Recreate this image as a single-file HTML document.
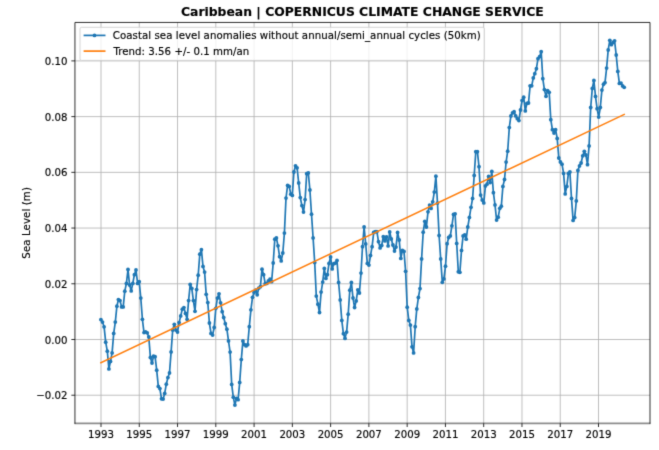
<!DOCTYPE html>
<html><head><meta charset="utf-8"><title>Caribbean | COPERNICUS CLIMATE CHANGE SERVICE</title>
<style>html,body{margin:0;padding:0;background:#fff}body{width:659px;height:450px;overflow:hidden}svg{display:block}text{font-family:"DejaVu Sans","Liberation Sans",sans-serif;fill:#000;stroke:#000;stroke-width:0.15px}</style></head><body>
<svg width="659" height="450" viewBox="0 0 659 450">
<defs><filter id="b" color-interpolation-filters="sRGB" x="0" y="0" width="659" height="450" filterUnits="userSpaceOnUse"><feConvolveMatrix order="3" kernelMatrix="0.0144 0.0912 0.0144 0.0912 0.5776 0.0912 0.0144 0.0912 0.0144" edgeMode="duplicate"/></filter></defs>
<rect width="659" height="450" fill="#fff"/><g filter="url(#b)">
<path d="M101.00 22.45V423.4M139.27 22.45V423.4M177.54 22.45V423.4M215.81 22.45V423.4M254.08 22.45V423.4M292.35 22.45V423.4M330.62 22.45V423.4M368.89 22.45V423.4M407.16 22.45V423.4M445.43 22.45V423.4M483.70 22.45V423.4M521.97 22.45V423.4M560.24 22.45V423.4M598.51 22.45V423.4M74.95 395.22H650.0M74.95 339.50H650.0M74.95 283.78H650.0M74.95 228.06H650.0M74.95 172.34H650.0M74.95 116.62H650.0M74.95 60.90H650.0" stroke="#b0b0b0" stroke-width="0.82" fill="none"/>
<path d="M100.9 319.6L102.5 322.1L104.1 326.8L105.7 342.2L107.3 351.2L108.9 368.9L110.5 361.4L112.1 352.9L113.7 333.4L115.3 322.1L116.9 306.2L118.4 299.6L120.0 300.6L121.6 306.9L123.2 306.9L124.8 291.2L126.4 283.4L128.0 269.5L129.6 285.0L131.2 290.9L132.8 283.4L134.4 274.7L136.0 270.0L137.6 283.4L139.2 281.7L140.8 298.1L142.4 319.3L144.0 332.6L145.6 331.8L147.2 332.8L148.8 337.0L150.4 357.5L152.0 363.0L153.5 356.2L155.1 356.7L156.7 370.2L158.3 386.4L159.9 388.6L161.5 398.8L163.1 399.1L164.7 393.4L166.3 384.2L167.9 377.6L169.5 372.9L171.1 351.9L172.7 330.1L174.3 324.3L175.9 330.1L177.5 332.1L179.1 322.6L180.7 315.9L182.3 309.2L183.9 307.6L185.5 313.4L187.1 319.3L188.6 300.6L190.2 284.5L191.8 288.4L193.4 300.6L195.0 311.3L196.6 289.6L198.2 275.2L199.8 254.2L201.4 249.7L203.0 266.4L204.6 272.1L206.2 294.3L207.8 302.6L209.4 323.0L211.0 333.4L212.6 335.1L214.2 327.5L215.8 308.3L217.4 298.1L219.0 293.8L220.6 302.8L222.2 311.7L223.7 317.5L225.3 323.7L226.9 329.2L228.5 340.9L230.1 352.1L231.7 384.4L233.3 397.2L234.9 405.1L236.5 398.4L238.1 399.7L239.7 382.4L241.3 359.6L242.9 340.9L244.5 344.7L246.1 345.9L247.7 344.7L249.3 326.7L250.9 309.8L252.5 297.3L254.1 292.6L255.7 290.1L257.2 294.8L258.8 288.1L260.4 286.7L262.0 269.2L263.6 274.7L265.2 283.7L266.8 283.4L268.4 280.9L270.0 279.2L271.6 281.7L273.2 263.0L274.8 239.2L276.4 238.0L278.0 245.8L279.6 256.7L281.2 260.9L282.8 253.0L284.4 233.1L286.0 198.1L287.6 185.4L289.2 186.4L290.8 194.2L292.3 195.4L293.9 172.0L295.5 165.8L297.1 167.8L298.7 183.0L300.3 197.6L301.9 205.6L303.5 212.1L305.1 199.6L306.7 173.7L308.3 172.9L309.9 190.0L311.5 214.2L313.1 237.9L314.7 262.6L316.3 296.1L317.9 304.2L319.5 312.5L321.1 292.1L322.7 282.1L324.3 268.4L325.9 278.4L327.4 274.7L329.0 263.4L330.6 257.0L332.2 268.9L333.8 263.7L335.4 263.1L337.0 260.4L338.6 282.5L340.2 299.9L341.8 320.4L343.4 333.7L345.0 338.4L346.6 332.1L348.2 314.2L349.8 290.2L351.4 282.4L353.0 298.0L354.6 307.5L356.2 300.9L357.8 289.8L359.4 293.0L361.0 273.1L362.5 246.7L364.1 227.0L365.7 243.9L367.3 263.4L368.9 265.1L370.5 255.5L372.1 246.7L373.7 232.5L375.3 231.7L376.9 231.7L378.5 241.7L380.1 247.9L381.7 245.5L383.3 236.7L384.9 240.9L386.5 236.9L388.1 245.9L389.7 231.9L391.3 239.0L392.9 245.0L394.5 251.1L396.0 247.1L397.6 232.4L399.2 240.0L400.8 258.4L402.4 250.4L404.0 251.4L405.6 271.3L407.2 307.2L408.8 320.4L410.4 325.1L412.0 346.8L413.6 352.9L415.2 326.7L416.8 308.9L418.4 297.5L420.0 288.6L421.6 258.9L423.2 232.2L424.8 221.3L426.4 227.0L428.0 211.8L429.6 205.1L431.1 208.4L432.7 201.8L434.3 192.1L435.9 176.2L437.5 203.1L439.1 235.5L440.7 258.9L442.3 282.3L443.9 278.9L445.5 266.2L447.1 243.7L448.7 237.5L450.3 235.9L451.9 225.8L453.5 214.5L455.1 213.8L456.7 243.4L458.3 271.8L459.9 272.3L461.5 250.4L463.1 235.9L464.7 235.0L466.2 239.2L467.8 227.0L469.4 217.4L471.0 207.3L472.6 198.4L474.2 175.4L475.8 151.7L477.4 151.7L479.0 166.7L480.6 195.1L482.2 200.1L483.8 202.9L485.4 185.9L487.0 184.2L488.6 176.4L490.2 182.6L491.8 171.4L493.4 192.7L495.0 204.9L496.6 220.1L498.2 217.2L499.8 208.3L501.3 206.2L502.9 186.4L504.5 179.5L506.1 162.1L507.7 151.2L509.3 127.6L510.9 115.9L512.5 112.9L514.1 111.7L515.7 115.9L517.3 118.7L518.9 120.6L520.5 110.0L522.1 100.4L523.7 97.2L525.3 110.9L526.9 103.4L528.5 103.0L530.1 85.8L531.7 85.8L533.3 77.9L534.8 73.7L536.4 68.7L538.0 58.7L539.6 56.7L541.2 51.7L542.8 78.7L544.4 89.6L546.0 96.3L547.6 90.6L549.2 92.3L550.8 119.7L552.4 129.7L554.0 133.1L555.6 129.7L557.2 138.4L558.8 158.0L560.4 162.0L562.0 164.2L563.6 173.4L565.2 193.9L566.8 186.4L568.4 173.4L569.9 172.0L571.5 198.4L573.1 220.4L574.7 217.6L576.3 200.9L577.9 170.5L579.5 165.9L581.1 163.0L582.7 155.8L584.3 151.3L585.9 155.0L587.5 164.7L589.1 145.9L590.7 107.5L592.3 88.4L593.9 80.5L595.5 96.4L597.1 108.7L598.7 117.1L600.3 107.5L601.9 90.1L603.5 84.2L605.0 82.6L606.6 68.1L608.2 50.0L609.8 40.3L611.4 44.7L613.0 42.5L614.6 40.8L616.2 55.0L617.8 71.4L619.4 83.4L621.0 83.1L622.6 85.9L624.2 87.3" stroke="#1f77b4" stroke-width="1.7" fill="none" stroke-linejoin="round"/>
<g fill="#1f77b4"><circle cx="100.9" cy="319.6" r="1.9"/><circle cx="102.5" cy="322.1" r="1.9"/><circle cx="104.1" cy="326.8" r="1.9"/><circle cx="105.7" cy="342.2" r="1.9"/><circle cx="107.3" cy="351.2" r="1.9"/><circle cx="108.9" cy="368.9" r="1.9"/><circle cx="110.5" cy="361.4" r="1.9"/><circle cx="112.1" cy="352.9" r="1.9"/><circle cx="113.7" cy="333.4" r="1.9"/><circle cx="115.3" cy="322.1" r="1.9"/><circle cx="116.9" cy="306.2" r="1.9"/><circle cx="118.4" cy="299.6" r="1.9"/><circle cx="120.0" cy="300.6" r="1.9"/><circle cx="121.6" cy="306.9" r="1.9"/><circle cx="123.2" cy="306.9" r="1.9"/><circle cx="124.8" cy="291.2" r="1.9"/><circle cx="126.4" cy="283.4" r="1.9"/><circle cx="128.0" cy="269.5" r="1.9"/><circle cx="129.6" cy="285.0" r="1.9"/><circle cx="131.2" cy="290.9" r="1.9"/><circle cx="132.8" cy="283.4" r="1.9"/><circle cx="134.4" cy="274.7" r="1.9"/><circle cx="136.0" cy="270.0" r="1.9"/><circle cx="137.6" cy="283.4" r="1.9"/><circle cx="139.2" cy="281.7" r="1.9"/><circle cx="140.8" cy="298.1" r="1.9"/><circle cx="142.4" cy="319.3" r="1.9"/><circle cx="144.0" cy="332.6" r="1.9"/><circle cx="145.6" cy="331.8" r="1.9"/><circle cx="147.2" cy="332.8" r="1.9"/><circle cx="148.8" cy="337.0" r="1.9"/><circle cx="150.4" cy="357.5" r="1.9"/><circle cx="152.0" cy="363.0" r="1.9"/><circle cx="153.5" cy="356.2" r="1.9"/><circle cx="155.1" cy="356.7" r="1.9"/><circle cx="156.7" cy="370.2" r="1.9"/><circle cx="158.3" cy="386.4" r="1.9"/><circle cx="159.9" cy="388.6" r="1.9"/><circle cx="161.5" cy="398.8" r="1.9"/><circle cx="163.1" cy="399.1" r="1.9"/><circle cx="164.7" cy="393.4" r="1.9"/><circle cx="166.3" cy="384.2" r="1.9"/><circle cx="167.9" cy="377.6" r="1.9"/><circle cx="169.5" cy="372.9" r="1.9"/><circle cx="171.1" cy="351.9" r="1.9"/><circle cx="172.7" cy="330.1" r="1.9"/><circle cx="174.3" cy="324.3" r="1.9"/><circle cx="175.9" cy="330.1" r="1.9"/><circle cx="177.5" cy="332.1" r="1.9"/><circle cx="179.1" cy="322.6" r="1.9"/><circle cx="180.7" cy="315.9" r="1.9"/><circle cx="182.3" cy="309.2" r="1.9"/><circle cx="183.9" cy="307.6" r="1.9"/><circle cx="185.5" cy="313.4" r="1.9"/><circle cx="187.1" cy="319.3" r="1.9"/><circle cx="188.6" cy="300.6" r="1.9"/><circle cx="190.2" cy="284.5" r="1.9"/><circle cx="191.8" cy="288.4" r="1.9"/><circle cx="193.4" cy="300.6" r="1.9"/><circle cx="195.0" cy="311.3" r="1.9"/><circle cx="196.6" cy="289.6" r="1.9"/><circle cx="198.2" cy="275.2" r="1.9"/><circle cx="199.8" cy="254.2" r="1.9"/><circle cx="201.4" cy="249.7" r="1.9"/><circle cx="203.0" cy="266.4" r="1.9"/><circle cx="204.6" cy="272.1" r="1.9"/><circle cx="206.2" cy="294.3" r="1.9"/><circle cx="207.8" cy="302.6" r="1.9"/><circle cx="209.4" cy="323.0" r="1.9"/><circle cx="211.0" cy="333.4" r="1.9"/><circle cx="212.6" cy="335.1" r="1.9"/><circle cx="214.2" cy="327.5" r="1.9"/><circle cx="215.8" cy="308.3" r="1.9"/><circle cx="217.4" cy="298.1" r="1.9"/><circle cx="219.0" cy="293.8" r="1.9"/><circle cx="220.6" cy="302.8" r="1.9"/><circle cx="222.2" cy="311.7" r="1.9"/><circle cx="223.7" cy="317.5" r="1.9"/><circle cx="225.3" cy="323.7" r="1.9"/><circle cx="226.9" cy="329.2" r="1.9"/><circle cx="228.5" cy="340.9" r="1.9"/><circle cx="230.1" cy="352.1" r="1.9"/><circle cx="231.7" cy="384.4" r="1.9"/><circle cx="233.3" cy="397.2" r="1.9"/><circle cx="234.9" cy="405.1" r="1.9"/><circle cx="236.5" cy="398.4" r="1.9"/><circle cx="238.1" cy="399.7" r="1.9"/><circle cx="239.7" cy="382.4" r="1.9"/><circle cx="241.3" cy="359.6" r="1.9"/><circle cx="242.9" cy="340.9" r="1.9"/><circle cx="244.5" cy="344.7" r="1.9"/><circle cx="246.1" cy="345.9" r="1.9"/><circle cx="247.7" cy="344.7" r="1.9"/><circle cx="249.3" cy="326.7" r="1.9"/><circle cx="250.9" cy="309.8" r="1.9"/><circle cx="252.5" cy="297.3" r="1.9"/><circle cx="254.1" cy="292.6" r="1.9"/><circle cx="255.7" cy="290.1" r="1.9"/><circle cx="257.2" cy="294.8" r="1.9"/><circle cx="258.8" cy="288.1" r="1.9"/><circle cx="260.4" cy="286.7" r="1.9"/><circle cx="262.0" cy="269.2" r="1.9"/><circle cx="263.6" cy="274.7" r="1.9"/><circle cx="265.2" cy="283.7" r="1.9"/><circle cx="266.8" cy="283.4" r="1.9"/><circle cx="268.4" cy="280.9" r="1.9"/><circle cx="270.0" cy="279.2" r="1.9"/><circle cx="271.6" cy="281.7" r="1.9"/><circle cx="273.2" cy="263.0" r="1.9"/><circle cx="274.8" cy="239.2" r="1.9"/><circle cx="276.4" cy="238.0" r="1.9"/><circle cx="278.0" cy="245.8" r="1.9"/><circle cx="279.6" cy="256.7" r="1.9"/><circle cx="281.2" cy="260.9" r="1.9"/><circle cx="282.8" cy="253.0" r="1.9"/><circle cx="284.4" cy="233.1" r="1.9"/><circle cx="286.0" cy="198.1" r="1.9"/><circle cx="287.6" cy="185.4" r="1.9"/><circle cx="289.2" cy="186.4" r="1.9"/><circle cx="290.8" cy="194.2" r="1.9"/><circle cx="292.3" cy="195.4" r="1.9"/><circle cx="293.9" cy="172.0" r="1.9"/><circle cx="295.5" cy="165.8" r="1.9"/><circle cx="297.1" cy="167.8" r="1.9"/><circle cx="298.7" cy="183.0" r="1.9"/><circle cx="300.3" cy="197.6" r="1.9"/><circle cx="301.9" cy="205.6" r="1.9"/><circle cx="303.5" cy="212.1" r="1.9"/><circle cx="305.1" cy="199.6" r="1.9"/><circle cx="306.7" cy="173.7" r="1.9"/><circle cx="308.3" cy="172.9" r="1.9"/><circle cx="309.9" cy="190.0" r="1.9"/><circle cx="311.5" cy="214.2" r="1.9"/><circle cx="313.1" cy="237.9" r="1.9"/><circle cx="314.7" cy="262.6" r="1.9"/><circle cx="316.3" cy="296.1" r="1.9"/><circle cx="317.9" cy="304.2" r="1.9"/><circle cx="319.5" cy="312.5" r="1.9"/><circle cx="321.1" cy="292.1" r="1.9"/><circle cx="322.7" cy="282.1" r="1.9"/><circle cx="324.3" cy="268.4" r="1.9"/><circle cx="325.9" cy="278.4" r="1.9"/><circle cx="327.4" cy="274.7" r="1.9"/><circle cx="329.0" cy="263.4" r="1.9"/><circle cx="330.6" cy="257.0" r="1.9"/><circle cx="332.2" cy="268.9" r="1.9"/><circle cx="333.8" cy="263.7" r="1.9"/><circle cx="335.4" cy="263.1" r="1.9"/><circle cx="337.0" cy="260.4" r="1.9"/><circle cx="338.6" cy="282.5" r="1.9"/><circle cx="340.2" cy="299.9" r="1.9"/><circle cx="341.8" cy="320.4" r="1.9"/><circle cx="343.4" cy="333.7" r="1.9"/><circle cx="345.0" cy="338.4" r="1.9"/><circle cx="346.6" cy="332.1" r="1.9"/><circle cx="348.2" cy="314.2" r="1.9"/><circle cx="349.8" cy="290.2" r="1.9"/><circle cx="351.4" cy="282.4" r="1.9"/><circle cx="353.0" cy="298.0" r="1.9"/><circle cx="354.6" cy="307.5" r="1.9"/><circle cx="356.2" cy="300.9" r="1.9"/><circle cx="357.8" cy="289.8" r="1.9"/><circle cx="359.4" cy="293.0" r="1.9"/><circle cx="361.0" cy="273.1" r="1.9"/><circle cx="362.5" cy="246.7" r="1.9"/><circle cx="364.1" cy="227.0" r="1.9"/><circle cx="365.7" cy="243.9" r="1.9"/><circle cx="367.3" cy="263.4" r="1.9"/><circle cx="368.9" cy="265.1" r="1.9"/><circle cx="370.5" cy="255.5" r="1.9"/><circle cx="372.1" cy="246.7" r="1.9"/><circle cx="373.7" cy="232.5" r="1.9"/><circle cx="375.3" cy="231.7" r="1.9"/><circle cx="376.9" cy="231.7" r="1.9"/><circle cx="378.5" cy="241.7" r="1.9"/><circle cx="380.1" cy="247.9" r="1.9"/><circle cx="381.7" cy="245.5" r="1.9"/><circle cx="383.3" cy="236.7" r="1.9"/><circle cx="384.9" cy="240.9" r="1.9"/><circle cx="386.5" cy="236.9" r="1.9"/><circle cx="388.1" cy="245.9" r="1.9"/><circle cx="389.7" cy="231.9" r="1.9"/><circle cx="391.3" cy="239.0" r="1.9"/><circle cx="392.9" cy="245.0" r="1.9"/><circle cx="394.5" cy="251.1" r="1.9"/><circle cx="396.0" cy="247.1" r="1.9"/><circle cx="397.6" cy="232.4" r="1.9"/><circle cx="399.2" cy="240.0" r="1.9"/><circle cx="400.8" cy="258.4" r="1.9"/><circle cx="402.4" cy="250.4" r="1.9"/><circle cx="404.0" cy="251.4" r="1.9"/><circle cx="405.6" cy="271.3" r="1.9"/><circle cx="407.2" cy="307.2" r="1.9"/><circle cx="408.8" cy="320.4" r="1.9"/><circle cx="410.4" cy="325.1" r="1.9"/><circle cx="412.0" cy="346.8" r="1.9"/><circle cx="413.6" cy="352.9" r="1.9"/><circle cx="415.2" cy="326.7" r="1.9"/><circle cx="416.8" cy="308.9" r="1.9"/><circle cx="418.4" cy="297.5" r="1.9"/><circle cx="420.0" cy="288.6" r="1.9"/><circle cx="421.6" cy="258.9" r="1.9"/><circle cx="423.2" cy="232.2" r="1.9"/><circle cx="424.8" cy="221.3" r="1.9"/><circle cx="426.4" cy="227.0" r="1.9"/><circle cx="428.0" cy="211.8" r="1.9"/><circle cx="429.6" cy="205.1" r="1.9"/><circle cx="431.1" cy="208.4" r="1.9"/><circle cx="432.7" cy="201.8" r="1.9"/><circle cx="434.3" cy="192.1" r="1.9"/><circle cx="435.9" cy="176.2" r="1.9"/><circle cx="437.5" cy="203.1" r="1.9"/><circle cx="439.1" cy="235.5" r="1.9"/><circle cx="440.7" cy="258.9" r="1.9"/><circle cx="442.3" cy="282.3" r="1.9"/><circle cx="443.9" cy="278.9" r="1.9"/><circle cx="445.5" cy="266.2" r="1.9"/><circle cx="447.1" cy="243.7" r="1.9"/><circle cx="448.7" cy="237.5" r="1.9"/><circle cx="450.3" cy="235.9" r="1.9"/><circle cx="451.9" cy="225.8" r="1.9"/><circle cx="453.5" cy="214.5" r="1.9"/><circle cx="455.1" cy="213.8" r="1.9"/><circle cx="456.7" cy="243.4" r="1.9"/><circle cx="458.3" cy="271.8" r="1.9"/><circle cx="459.9" cy="272.3" r="1.9"/><circle cx="461.5" cy="250.4" r="1.9"/><circle cx="463.1" cy="235.9" r="1.9"/><circle cx="464.7" cy="235.0" r="1.9"/><circle cx="466.2" cy="239.2" r="1.9"/><circle cx="467.8" cy="227.0" r="1.9"/><circle cx="469.4" cy="217.4" r="1.9"/><circle cx="471.0" cy="207.3" r="1.9"/><circle cx="472.6" cy="198.4" r="1.9"/><circle cx="474.2" cy="175.4" r="1.9"/><circle cx="475.8" cy="151.7" r="1.9"/><circle cx="477.4" cy="151.7" r="1.9"/><circle cx="479.0" cy="166.7" r="1.9"/><circle cx="480.6" cy="195.1" r="1.9"/><circle cx="482.2" cy="200.1" r="1.9"/><circle cx="483.8" cy="202.9" r="1.9"/><circle cx="485.4" cy="185.9" r="1.9"/><circle cx="487.0" cy="184.2" r="1.9"/><circle cx="488.6" cy="176.4" r="1.9"/><circle cx="490.2" cy="182.6" r="1.9"/><circle cx="491.8" cy="171.4" r="1.9"/><circle cx="493.4" cy="192.7" r="1.9"/><circle cx="495.0" cy="204.9" r="1.9"/><circle cx="496.6" cy="220.1" r="1.9"/><circle cx="498.2" cy="217.2" r="1.9"/><circle cx="499.8" cy="208.3" r="1.9"/><circle cx="501.3" cy="206.2" r="1.9"/><circle cx="502.9" cy="186.4" r="1.9"/><circle cx="504.5" cy="179.5" r="1.9"/><circle cx="506.1" cy="162.1" r="1.9"/><circle cx="507.7" cy="151.2" r="1.9"/><circle cx="509.3" cy="127.6" r="1.9"/><circle cx="510.9" cy="115.9" r="1.9"/><circle cx="512.5" cy="112.9" r="1.9"/><circle cx="514.1" cy="111.7" r="1.9"/><circle cx="515.7" cy="115.9" r="1.9"/><circle cx="517.3" cy="118.7" r="1.9"/><circle cx="518.9" cy="120.6" r="1.9"/><circle cx="520.5" cy="110.0" r="1.9"/><circle cx="522.1" cy="100.4" r="1.9"/><circle cx="523.7" cy="97.2" r="1.9"/><circle cx="525.3" cy="110.9" r="1.9"/><circle cx="526.9" cy="103.4" r="1.9"/><circle cx="528.5" cy="103.0" r="1.9"/><circle cx="530.1" cy="85.8" r="1.9"/><circle cx="531.7" cy="85.8" r="1.9"/><circle cx="533.3" cy="77.9" r="1.9"/><circle cx="534.8" cy="73.7" r="1.9"/><circle cx="536.4" cy="68.7" r="1.9"/><circle cx="538.0" cy="58.7" r="1.9"/><circle cx="539.6" cy="56.7" r="1.9"/><circle cx="541.2" cy="51.7" r="1.9"/><circle cx="542.8" cy="78.7" r="1.9"/><circle cx="544.4" cy="89.6" r="1.9"/><circle cx="546.0" cy="96.3" r="1.9"/><circle cx="547.6" cy="90.6" r="1.9"/><circle cx="549.2" cy="92.3" r="1.9"/><circle cx="550.8" cy="119.7" r="1.9"/><circle cx="552.4" cy="129.7" r="1.9"/><circle cx="554.0" cy="133.1" r="1.9"/><circle cx="555.6" cy="129.7" r="1.9"/><circle cx="557.2" cy="138.4" r="1.9"/><circle cx="558.8" cy="158.0" r="1.9"/><circle cx="560.4" cy="162.0" r="1.9"/><circle cx="562.0" cy="164.2" r="1.9"/><circle cx="563.6" cy="173.4" r="1.9"/><circle cx="565.2" cy="193.9" r="1.9"/><circle cx="566.8" cy="186.4" r="1.9"/><circle cx="568.4" cy="173.4" r="1.9"/><circle cx="569.9" cy="172.0" r="1.9"/><circle cx="571.5" cy="198.4" r="1.9"/><circle cx="573.1" cy="220.4" r="1.9"/><circle cx="574.7" cy="217.6" r="1.9"/><circle cx="576.3" cy="200.9" r="1.9"/><circle cx="577.9" cy="170.5" r="1.9"/><circle cx="579.5" cy="165.9" r="1.9"/><circle cx="581.1" cy="163.0" r="1.9"/><circle cx="582.7" cy="155.8" r="1.9"/><circle cx="584.3" cy="151.3" r="1.9"/><circle cx="585.9" cy="155.0" r="1.9"/><circle cx="587.5" cy="164.7" r="1.9"/><circle cx="589.1" cy="145.9" r="1.9"/><circle cx="590.7" cy="107.5" r="1.9"/><circle cx="592.3" cy="88.4" r="1.9"/><circle cx="593.9" cy="80.5" r="1.9"/><circle cx="595.5" cy="96.4" r="1.9"/><circle cx="597.1" cy="108.7" r="1.9"/><circle cx="598.7" cy="117.1" r="1.9"/><circle cx="600.3" cy="107.5" r="1.9"/><circle cx="601.9" cy="90.1" r="1.9"/><circle cx="603.5" cy="84.2" r="1.9"/><circle cx="605.0" cy="82.6" r="1.9"/><circle cx="606.6" cy="68.1" r="1.9"/><circle cx="608.2" cy="50.0" r="1.9"/><circle cx="609.8" cy="40.3" r="1.9"/><circle cx="611.4" cy="44.7" r="1.9"/><circle cx="613.0" cy="42.5" r="1.9"/><circle cx="614.6" cy="40.8" r="1.9"/><circle cx="616.2" cy="55.0" r="1.9"/><circle cx="617.8" cy="71.4" r="1.9"/><circle cx="619.4" cy="83.4" r="1.9"/><circle cx="621.0" cy="83.1" r="1.9"/><circle cx="622.6" cy="85.9" r="1.9"/><circle cx="624.2" cy="87.3" r="1.9"/></g>
<path d="M100.9 362.7L624.2 114.5" stroke="#ff7f0e" stroke-width="1.53" fill="none" stroke-linecap="square"/>
<path d="M74.95 423.79999999999995V22.45H650.0V423.79999999999995" fill="none" stroke="#000" stroke-width="0.82" stroke-linejoin="miter"/>
<path d="M74.54 423.45H650.41" fill="none" stroke="#000" stroke-opacity="0.45" stroke-width="1.7"/>
<path d="M101.00 423.4v3.6M139.27 423.4v3.6M177.54 423.4v3.6M215.81 423.4v3.6M254.08 423.4v3.6M292.35 423.4v3.6M330.62 423.4v3.6M368.89 423.4v3.6M407.16 423.4v3.6M445.43 423.4v3.6M483.70 423.4v3.6M521.97 423.4v3.6M560.24 423.4v3.6M598.51 423.4v3.6M74.95 395.22h-3.6M74.95 339.50h-3.6M74.95 283.78h-3.6M74.95 228.06h-3.6M74.95 172.34h-3.6M74.95 116.62h-3.6M74.95 60.90h-3.6" stroke="#000" stroke-width="0.82" fill="none"/>
<g font-size="10.2" text-anchor="middle">
<text x="101.00" y="438.2">1993</text>
<text x="139.27" y="438.2">1995</text>
<text x="177.54" y="438.2">1997</text>
<text x="215.81" y="438.2">1999</text>
<text x="254.08" y="438.2">2001</text>
<text x="292.35" y="438.2">2003</text>
<text x="330.62" y="438.2">2005</text>
<text x="368.89" y="438.2">2007</text>
<text x="407.16" y="438.2">2009</text>
<text x="445.43" y="438.2">2011</text>
<text x="483.70" y="438.2">2013</text>
<text x="521.97" y="438.2">2015</text>
<text x="560.24" y="438.2">2017</text>
<text x="598.51" y="438.2">2019</text>
</g>
<g font-size="10.2" text-anchor="end">
<text x="67.5" y="399.27">−0.02</text>
<text x="67.5" y="343.55">0.00</text>
<text x="67.5" y="287.83">0.02</text>
<text x="67.5" y="232.11">0.04</text>
<text x="67.5" y="176.39">0.06</text>
<text x="67.5" y="120.67">0.08</text>
<text x="67.5" y="64.95">0.10</text>
</g>
<text font-size="10.2" text-anchor="middle" transform="translate(29.8 222.9) rotate(-90)" textLength="71.6" lengthAdjust="spacing">Sea Level (m)</text>
<text font-size="12.38" font-weight="bold" text-anchor="middle" x="362.35" y="15.8">Caribbean | COPERNICUS CLIMATE CHANGE SERVICE</text>
<rect x="80" y="27.3" width="404.4" height="33.1" rx="1.5" ry="1.5" fill="#fff" fill-opacity="0.8" stroke="#ccc" stroke-width="0.82"/>
<path d="M83.6 35.4H105.5" stroke="#1f77b4" stroke-width="1.7"/><circle cx="94.5" cy="35.4" r="1.9" fill="#1f77b4"/>
<path d="M83.6 51.1H105.5" stroke="#ff7f0e" stroke-width="1.7"/>
<text font-size="10.2" x="112.8" y="38.8" textLength="368.0" lengthAdjust="spacing">Coastal sea level anomalies without annual/semi_annual cycles (50km)</text>
<text font-size="10.2" x="113.4" y="54.5" textLength="135.9" lengthAdjust="spacing">Trend: 3.56 +/- 0.1 mm/an</text>
</g></svg></body></html>
